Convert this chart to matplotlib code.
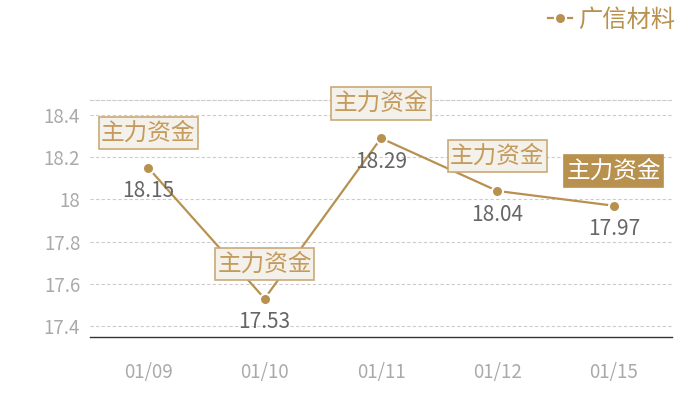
import numpy as np
import matplotlib
matplotlib.use('Agg')
import matplotlib.pyplot as plt
from matplotlib.path import Path

plt.rcParams['font.family'] = ['Noto Sans CJK SC', 'DejaVu Sans']

dates = ['01/09', '01/10', '01/11', '01/12', '01/15']
prices = [18.15, 17.53, 18.29, 18.04, 17.97]
value_labels = ['18.15', '17.53', '18.29', '18.04', '17.97']
mark_text = '主力资金'
series_name = '广信材料'
yticks = [17.4, 17.6, 17.8, 18.0, 18.2, 18.4]
ytick_labels = ['17.4', '17.6', '17.8', '18', '18.2', '18.4']

gold = '#b8914f'


def tag_box(x0, y0, width, height, mutation_size):
    # wider vertical padding than horizontal, like the original tag boxes
    px = 0.1 * mutation_size
    py = 0.2 * mutation_size
    x0, y0 = x0 - px, y0 - py
    x1, y1 = x0 + width + 2 * px, y0 + height + 2 * py
    return Path([(x0, y0), (x1, y0), (x1, y1), (x0, y1), (x0, y0)], closed=True)


fig = plt.figure(figsize=(7, 4), dpi=100)
ax = fig.add_axes([90/700, 63/400, 582/700, 237/400])

x = np.arange(len(dates))
ax.plot(x, prices, color=gold, lw=1.6, marker='o', ms=8,
        markerfacecolor=gold, markeredgecolor='white', markeredgewidth=1.5,
        label=series_name, zorder=3)

ax.set_xlim(-0.5, len(dates) - 0.5)
ax.set_ylim(17.348, 18.471)
ax.set_xticks(x)
ax.set_xticklabels(dates)
ax.set_yticks(yticks)
ax.set_yticklabels(ytick_labels)
ax.tick_params(axis='both', length=0, labelsize=13.5, colors='#aaaaaa')
ax.tick_params(axis='x', pad=18)
ax.tick_params(axis='y', pad=7)
ax.grid(axis='y', color='#cccccc', ls=(0, (3, 2)), lw=0.8)
for s in ['left', 'right']:
    ax.spines[s].set_visible(False)
ax.spines['top'].set_color('#cccccc')
ax.spines['top'].set_linestyle((0, (3, 2)))
ax.spines['top'].set_linewidth(0.8)
ax.spines['bottom'].set_color('#333333')
ax.spines['bottom'].set_linewidth(1.0)

for i, (xi, yi) in enumerate(zip(x, prices)):
    ax.annotate(value_labels[i], (xi, yi), xytext=(0, -17), textcoords='offset points',
                ha='center', va='center', fontsize=15, color='#666666', zorder=4)
    last = i == len(prices) - 1
    ax.annotate(mark_text, (xi, yi), xytext=(0, 25), textcoords='offset points',
                ha='center', va='center', fontsize=17,
                color='white' if last else '#c49b5c',
                bbox=dict(boxstyle=tag_box,
                          fc=gold if last else '#f4f0ea',
                          ec=gold if last else '#c9a979', lw=1.2),
                zorder=5)

leg = ax.legend(loc='upper right', bbox_to_anchor=(685/700, 1.008), bbox_transform=fig.transFigure,
                frameon=False, fontsize=17.5, handlelength=1.0, handletextpad=0.25,
                borderaxespad=0.0)
for t in leg.get_texts():
    t.set_color(gold)

fig.savefig('out.png', dpi=100)
